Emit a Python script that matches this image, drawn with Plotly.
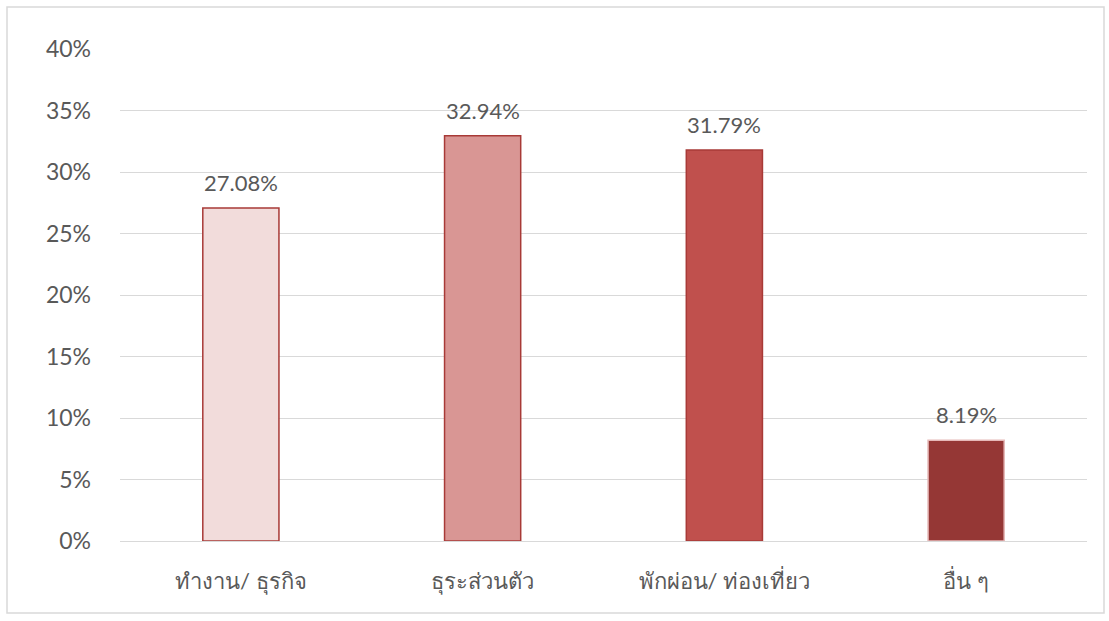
import plotly.graph_objects as go

categories = ["ทำงาน/ ธุรกิจ", "ธุระส่วนตัว", "พักผ่อน/ ท่องเที่ยว", "อื่น ๆ"]
values = [0.2708, 0.3294, 0.3179, 0.0819]
labels = ["27.08%", "32.94%", "31.79%", "8.19%"]
bar_colors = ["#F2DCDB", "#D99694", "#C0504D", "#953735"]
line_colors = ["#A83A37", "#A83A37", "#A83A37", "#E6B9B8"]

FONT = "Lato, Open Sans, sans-serif"

fig = go.Figure(go.Bar(
    x=categories, y=values,
    marker=dict(color=bar_colors, line=dict(color=line_colors, width=1.5)),
    width=0.315,
))

for c, v, t in zip(categories, values, labels):
    fig.add_annotation(x=c, y=v, text=t, showarrow=False, yanchor="bottom",
                       yshift=10, font=dict(size=22, color="#595959", family=FONT))

fig.update_layout(
    width=1109, height=621,
    margin=dict(l=120, r=22, t=49, b=80),
    paper_bgcolor="white", plot_bgcolor="white",
    showlegend=False,
    font=dict(family=FONT, color="#595959"),
    yaxis=dict(range=[0, 0.4], dtick=0.05, tickformat=".0%",
               showgrid=True, gridcolor="#D9D9D9", gridwidth=1.3,
               zeroline=False, showline=False,
               tickfont=dict(size=23, color="#595959"),
               ticklabelstandoff=28),
    xaxis=dict(showline=True, linecolor="#D9D9D9", linewidth=1.3,
               tickfont=dict(size=22, color="#595959"),
               ticklabelstandoff=20),
    shapes=[dict(type="rect", xref="paper", yref="paper",
                 x0=-113/967, x1=(1104-120)/967, y0=-(613-541)/492, y1=(541-7)/492,
                 line=dict(color="#D9D9D9", width=1.5))],
)

fig.write_html("out.html")
